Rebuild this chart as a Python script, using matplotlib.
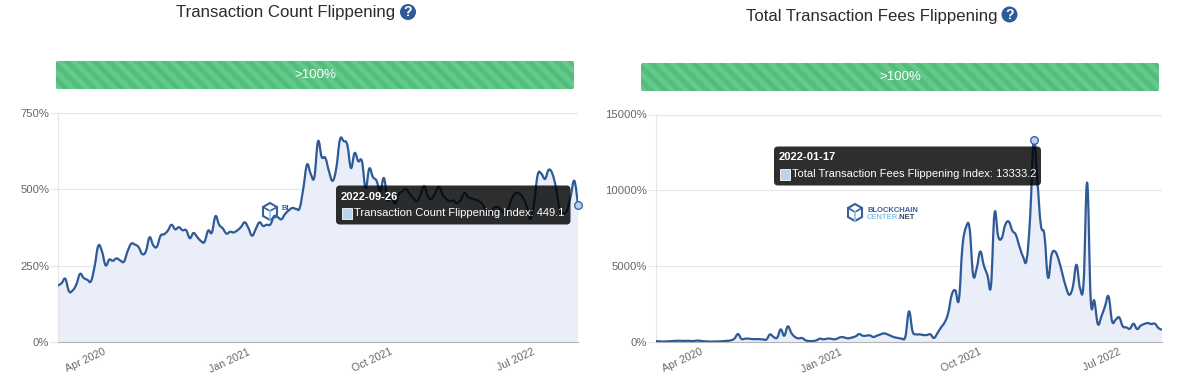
"""Transaction count and fee flippening charts, side by side."""

import numpy as np
import pandas as pd
import matplotlib
matplotlib.use("Agg")
import matplotlib.dates as mdates
import matplotlib.pyplot as plt
from matplotlib.patches import Circle, FancyBboxPatch, PathPatch, Polygon, Rectangle
from matplotlib.path import Path

plt.rcParams["font.family"] = ["Liberation Sans", "DejaVu Sans"]

W, H = 1182, 379

# weekly values, last point is 2022-09-26
count_values = [
    184.5, 193, 207, 166, 169, 188, 223, 210, 204, 199,
    248, 315, 297, 251, 270, 266, 274, 267, 263, 297,
    322, 319, 311, 288, 297, 343, 317, 312, 348, 353,
    365, 384, 369, 376, 366, 366, 340, 357, 344, 331,
    328, 365, 358, 412, 384, 372, 355, 361, 359, 366,
    377, 392, 373, 348, 370, 392, 380, 384, 385, 412,
    409, 402, 419, 431, 439, 436,
    439, 504, 581, 551, 540, 657, 606, 603, 559, 528,
    570, 663, 658, 646, 570, 619, 592, 592, 504, 568,
    540, 528, 493, 537, 466, 477, 453, 483, 493, 501,
    486, 472, 461, 483, 510, 477, 469, 488, 508, 483,
    469, 461, 463, 455, 466, 488, 475, 470, 466, 461,
    450, 428, 422, 439, 442, 433, 422, 439, 472, 488,
    486, 472, 444, 403, 455, 548, 551, 534, 564, 551,
    504, 433, 422, 431, 477, 528, 449.1,
]
fees_values = [
    60, 40, 30, 40, 50, 70, 80, 80, 70, 80,
    60, 80, 90, 60, 40, 30, 30, 40, 40, 60,
    80, 110, 220, 526, 200, 220, 220, 190, 190, 190,
    170, 170, 500, 330, 285, 830, 415, 1030, 590, 330,
    240, 260, 110, 65, 65, 110, 220, 175, 220, 220,
    175, 240, 330, 285, 240, 300, 370, 525, 415, 415,
    440, 330, 415, 500, 570, 500,
    395, 305, 265, 220, 370, 2018, 700, 505, 505, 460,
    460, 505, 265, 590, 965, 1295, 1910, 3115, 3400, 2785,
    6295, 7565, 7500, 4430, 4870, 5965, 5045, 4430, 3705, 8490,
    6995, 6840, 7720, 7940, 7345, 7060, 6295, 5635, 5415, 8270,
    13333.2, 10680, 7720, 7060, 4255, 5745, 5965, 5415, 4540, 3660,
    3115, 3660, 5090, 3550, 3925, 10505, 2785, 2720, 1185, 1690,
    2345, 3005, 1360, 1470, 1620, 1030, 965, 875, 1205, 855,
    1075, 1185, 1250, 1185, 1205, 920, 810,
]

x_ticks = ["2020-04-01", "2021-01-01", "2021-10-01", "2022-07-01"]
count_yticks = [0, 250, 500, 750]
fees_yticks = [0, 5000, 10000, 15000]

LINE = "#2f5a98"
FILL = "#e9eef8"
POINT = "#b9d4f2"
GREEN = "#52bd7c"
STRIPE = "#66c98c"


def px_axes(fig, x0, y0, x1, y1):
    # y0 is the top edge, in image pixels
    return fig.add_axes([x0 / W, 1 - y1 / H, (x1 - x0) / W, (y1 - y0) / H])


def curve_through(x, y, tension=0.4):
    # bezier segments through every data point, same idea as the original line tension
    xs, ys = np.asarray(x, float), np.asarray(y, float)
    verts = [(xs[0], ys[0])]
    codes = [Path.MOVETO]
    for i in range(len(xs) - 1):
        a, b = max(i - 1, 0), min(i + 2, len(xs) - 1)
        verts.append((xs[i] + (xs[i + 1] - xs[a]) * tension / 2,
                      ys[i] + (ys[i + 1] - ys[a]) * tension / 2))
        verts.append((xs[i + 1] - (xs[b] - xs[i]) * tension / 2,
                      ys[i + 1] - (ys[b] - ys[i]) * tension / 2))
        verts.append((xs[i + 1], ys[i + 1]))
        codes += [Path.CURVE4] * 3
    return verts, codes


def draw_chart(fig, box, values, yticks, hot):
    ax = px_axes(fig, *box)
    dates = pd.date_range("2020-01-06", periods=len(values), freq="7D")
    nums = mdates.date2num(dates)
    verts, codes = curve_through(nums, values)

    area = Path(verts + [(nums[-1], 0), (nums[0], 0), (nums[0], 0)],
                codes + [Path.LINETO, Path.LINETO, Path.CLOSEPOLY])
    ax.add_patch(PathPatch(area, fc=FILL, ec="none", zorder=2))
    ax.add_patch(PathPatch(Path(verts, codes), fc="none", ec=LINE, lw=1.6,
                           joinstyle="round", zorder=3))
    ax.plot(dates[hot], values[hot], "o", ms=5.5, mfc=POINT, mec=LINE, mew=0.9,
            clip_on=False, zorder=6)

    ax.set_xlim(dates[0], dates[-1])
    ax.set_ylim(0, yticks[-1])
    ax.set_yticks(yticks)
    ax.set_yticklabels([f"{v}%" for v in yticks], fontsize=8.1, color="#666666")
    ax.set_xticks(pd.to_datetime(x_ticks))
    ax.set_xticklabels([pd.Timestamp(t).strftime("%b %Y") for t in x_ticks],
                       rotation=25, ha="right", rotation_mode="anchor",
                       fontsize=7.7, color="#666666")
    ax.tick_params(axis="x", length=0, pad=3.5)
    ax.tick_params(axis="y", length=5.8, width=0.75, color="#e6e6e6", pad=0.5)
    ax.grid(axis="y", color="#e6e6e6", lw=0.8)
    ax.set_axisbelow(True)
    for side in ["top", "right"]:
        ax.spines[side].set_visible(False)
    ax.spines["left"].set_color("#e6e6e6")
    ax.spines["bottom"].set_color("#b4b4b4")
    return ax


def progress_bar(ov, x0, y0, x1, y1):
    bar = FancyBboxPatch((x0, y0), x1 - x0, y1 - y0, boxstyle="round,pad=0,rounding_size=2",
                         fc=GREEN, ec="none")
    ov.add_patch(bar)
    h = y1 - y0
    for sx in np.arange(x0 - h, x1, 14):
        stripe = Polygon([(sx, y0), (sx + 7, y0), (sx + 7 + h, y1), (sx + h, y1)],
                         fc=STRIPE, ec="none")
        ov.add_patch(stripe)
        stripe.set_clip_path(bar)
    ov.text((x0 + x1) / 2, (y0 + y1) / 2 + 0.5, ">100%", color="white",
            fontsize=9.5, ha="center", va="center")


def help_icon(ov, x, y):
    ov.add_patch(Circle((x, y), 8, color=LINE, lw=0))
    ov.text(x, y + 0.5, "?", color="white", fontsize=10, fontweight="bold",
            ha="center", va="center")


def tooltip(ov, x0, y0, x1, y1, date, label):
    ov.add_patch(FancyBboxPatch((x0 + 4, y0 + 4), x1 - x0 - 8, y1 - y0 - 8,
                                boxstyle="round,pad=4,rounding_size=4",
                                fc=(0, 0, 0, 0.82), ec="none", zorder=8))
    ov.text(x0 + 5, y0 + 11, date, color="white", fontsize=8, fontweight="bold",
            va="center", zorder=9)
    ov.add_patch(Rectangle((x0 + 6, y0 + 22), 10, 11, fc=POINT, ec="white", lw=0.6,
                           zorder=9))
    ov.text(x0 + 18, y0 + 27.5, label, color="white", fontsize=8, va="center",
            zorder=9)


def logo(ov, x, y, text=True):
    # little cube plus the site name
    cube = [(x, y + 4), (x + 7, y), (x + 14, y + 4), (x + 14, y + 13), (x + 7, y + 17), (x, y + 13)]
    ov.add_patch(Polygon(cube, fc="none", ec="#3a5f9e", lw=1.5, zorder=2))
    ov.plot([x, x + 7, x + 14], [y + 4, y + 8, y + 4], color="#3a5f9e", lw=1.2, zorder=2)
    ov.plot([x + 7, x + 7], [y + 8, y + 17], color="#8fc1ea", lw=1.2, zorder=2)
    if text:
        ov.text(x + 19, y + 6.5, "BLOCKCHAIN", color="#3a5f9e", fontsize=5.5,
                fontweight="bold", va="center", zorder=2)
        ov.text(x + 19, y + 13.5, "CENTER", color="#8fc1ea", fontsize=5.5,
                fontweight="bold", va="center", zorder=2)
        ov.text(x + 50, y + 13.5, ".NET", color="#33405a", fontsize=5.5,
                fontweight="bold", va="center", zorder=2)


def main():
    fig = plt.figure(figsize=(W / 100, H / 100), dpi=100)

    draw_chart(fig, (58, 113, 578, 342), count_values, count_yticks, -1)
    draw_chart(fig, (656, 114.5, 1162, 342), fees_values, fees_yticks, 106)

    # everything that is not the chart itself sits on a pixel sized overlay
    ov = fig.add_axes([0, 0, 1, 1], zorder=10)
    ov.set_xlim(0, W)
    ov.set_ylim(H, 0)
    ov.axis("off")
    ov.patch.set_alpha(0)

    ov.text(286, 13, "Transaction Count Flippening", fontsize=12.1, color="#2b2b2b",
            ha="center", va="center")
    ov.text(871.5, 16, "Total Transaction Fees Flippening", fontsize=12.1, color="#2b2b2b",
            ha="center", va="center")
    help_icon(ov, 408, 12)
    help_icon(ov, 1009.5, 14.5)

    progress_bar(ov, 56, 61, 574, 89)
    progress_bar(ov, 641, 63, 1159, 91)

    logo(ov, 263, 203, text=False)
    ov.text(282, 209, "BL", color="#3a5f9e", fontsize=5.5, fontweight="bold", va="center")
    logo(ov, 848, 204)

    tooltip(ov, 336, 185.5, 570.5, 224.5, "2022-09-26",
            "Transaction Count Flippening Index: 449.1")
    tooltip(ov, 774, 146.5, 1041, 185.5, "2022-01-17",
            "Total Transaction Fees Flippening Index: 13333.2")

    fig.savefig("out.png", dpi=100)


if __name__ == "__main__":
    main()
